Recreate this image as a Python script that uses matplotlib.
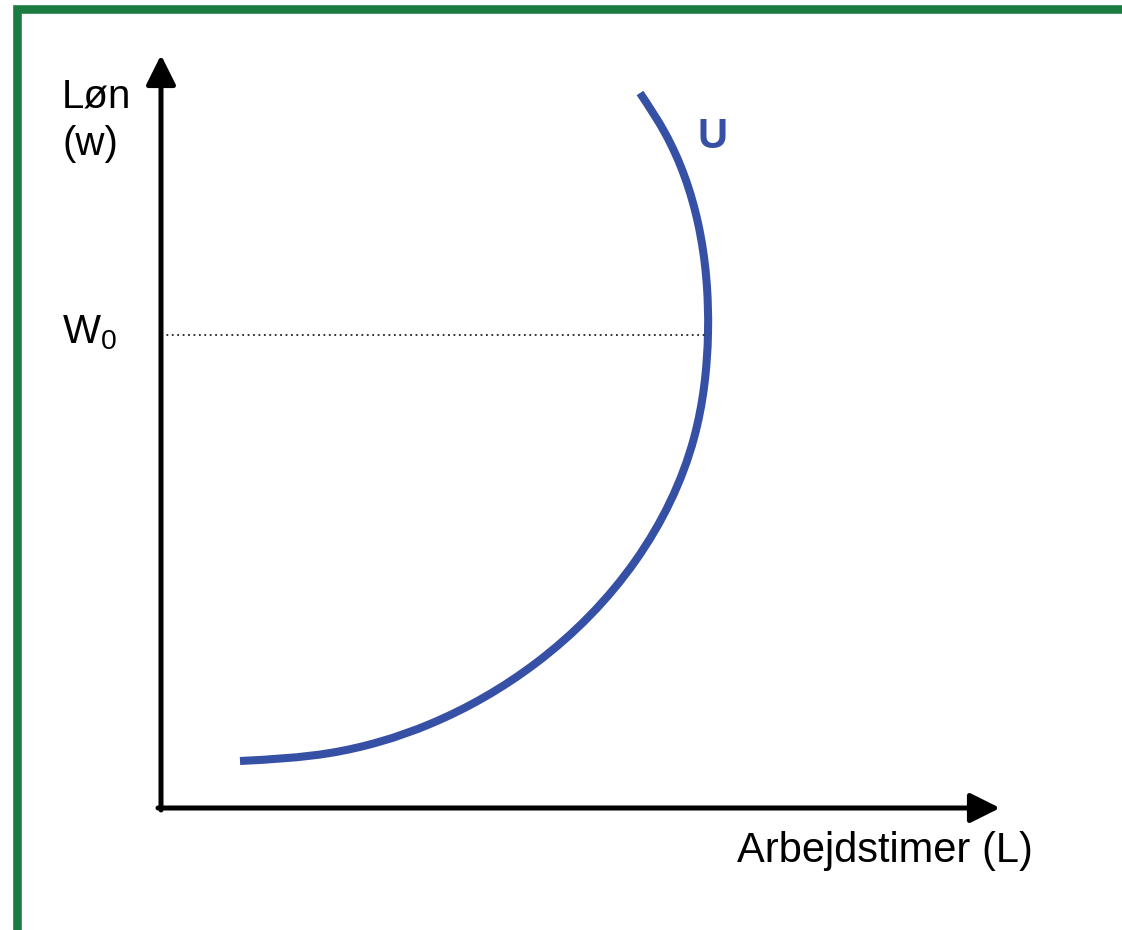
import matplotlib
matplotlib.use("Agg")
import matplotlib.pyplot as plt
import numpy as np
from matplotlib.patches import Rectangle, PathPatch
from matplotlib.path import Path

plt.rcParams['font.family'] = ['Liberation Sans', 'DejaVu Sans']
plt.rcParams['mathtext.fontset'] = 'custom'
plt.rcParams['mathtext.rm'] = 'Liberation Sans'

# arbejdstimer (L) og løn (w) langs nyttekurven U
timer = [0.79, 1.69, 2.69, 3.75, 4.75, 5.33, 5.47, 5.37, 5.04, 4.79]
loen = [0.47, 0.55, 0.84, 1.45, 2.48, 3.70, 4.75, 5.85, 6.75, 7.15]
w0 = 4.73
w0_timer = 5.45

blaa = "#3650a5"
groen = "#1b7c41"


def glat_sti(xs, ys):
    # naturlig kubisk spline (buelængde-parameter) tegnet som bezier-sti
    p = np.column_stack([xs, ys])
    n = len(p)
    h = np.linalg.norm(np.diff(p, axis=0), axis=1)
    A = np.zeros((n, n))
    b = np.zeros((n, 2))
    A[0, 0], A[0, 1] = 2, 1
    b[0] = 3 * (p[1] - p[0]) / h[0]
    A[-1, -2], A[-1, -1] = 1, 2
    b[-1] = 3 * (p[-1] - p[-2]) / h[-1]
    for i in range(1, n - 1):
        A[i, i - 1] = h[i]
        A[i, i] = 2 * (h[i - 1] + h[i])
        A[i, i + 1] = h[i - 1]
        b[i] = 3 * (h[i] * (p[i] - p[i - 1]) / h[i - 1]
                    + h[i - 1] * (p[i + 1] - p[i]) / h[i])
    m = np.linalg.solve(A, b)
    verts = [p[0]]
    codes = [Path.MOVETO]
    for i in range(n - 1):
        verts += [p[i] + m[i] * h[i] / 3, p[i + 1] - m[i + 1] * h[i] / 3, p[i + 1]]
        codes += [Path.CURVE4] * 3
    return Path(verts, codes)


fig = plt.figure(figsize=(11.22, 9.30), dpi=100)
fig.patch.set_facecolor("white")
ax = fig.add_axes([0, 0, 1, 1])
ax.set_xlim(-1.61, 9.61)
ax.set_ylim(-1.22, 8.08)
ax.axis("off")

# grøn ramme
fig.patches.append(Rectangle((16.5 / 1122, -1.3 / 930), 1.2, 922.3 / 930,
                             transform=fig.transFigure, fill=False,
                             edgecolor=groen, linewidth=6.2))

# akser med pile
pil = dict(arrowstyle="-|>,head_length=0.9,head_width=0.45", lw=3.6,
           color="black", mutation_scale=20, shrinkA=0, shrinkB=0)
ax.annotate("", xy=(0, 7.53), xytext=(0, -0.02), arrowprops=pil)
ax.annotate("", xy=(8.39, 0), xytext=(-0.03, 0), arrowprops=pil)

# stiplet linje ved W0
ax.plot([0, w0_timer], [w0, w0], color="#222222", lw=1.3,
        linestyle=(0, (1, 2)))

ax.add_patch(PathPatch(glat_sti(timer, loen), facecolor="none",
                       edgecolor=blaa, lw=5.8, capstyle="butt"))

ax.text(-0.99, 7.01, "Løn", fontsize=29, va="baseline", ha="left")
ax.text(-0.99, 6.53, "(w)", fontsize=29, va="baseline", ha="left")
ax.text(-0.99, 4.65, r"$\mathregular{W_0}$", fontsize=29, va="baseline", ha="left")
ax.text(5.76, -0.54, "Arbejdstimer (L)", fontsize=30, va="baseline", ha="left")
ax.text(5.36, 6.60, "U", fontsize=30, fontweight="bold", color=blaa,
        va="baseline", ha="left")

fig.savefig("out.png", dpi=100)
